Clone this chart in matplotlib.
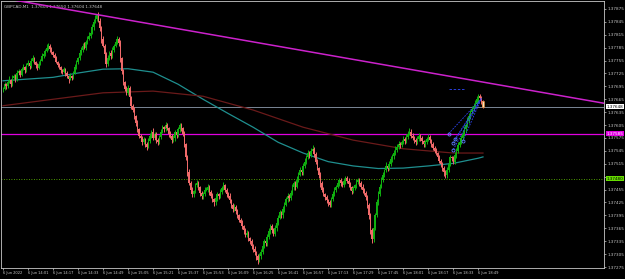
import numpy as np
import matplotlib.pyplot as plt

# GBPCAD M1, prices kept as points above 1.37000
BASE = 1.37
open_first = 688
close_pts = [
    690, 700, 695, 705, 710, 700, 715, 720, 712, 725,
    730, 722, 735, 740, 732, 745, 750, 742, 755, 760,
    752, 745, 738, 748, 755, 765, 770, 778, 785, 790,
    782, 775, 768, 760, 752, 745, 740, 732, 728, 735,
    725, 718, 712, 720, 715, 725, 740, 752, 760, 772,
    780, 790, 785, 798, 805, 812, 820, 832, 845, 852,
    860, 848, 830, 805, 790, 770, 748, 760, 772, 765,
    780, 790, 798, 805, 795, 760, 730, 705, 690, 680,
    692, 670, 650, 640, 625, 610, 595, 580, 575, 565,
    572, 560, 555, 568, 580, 590, 575, 585, 570, 565,
    578, 590, 600, 595, 605, 598, 585, 580, 570, 575,
    590, 582, 595, 605, 598, 585, 560, 530, 495, 470,
    455, 445, 452, 465, 470, 460, 448, 440, 445, 455,
    455, 462, 450, 440, 432, 425, 435, 445, 440, 450,
    458, 465, 455, 445, 440, 430, 420, 410, 415, 405,
    395, 385, 378, 370, 360, 350, 355, 342, 335, 325,
    318, 310, 300, 292, 300, 310, 325, 335, 330, 345,
    358, 370, 360, 352, 365, 378, 390, 402, 395, 410,
    420, 432, 440, 435, 448, 460, 470, 462, 478, 490,
    500, 495, 510, 520, 530, 540, 535, 545, 550, 538,
    520, 505, 490, 470, 455, 445, 438, 430, 425, 420,
    432, 445, 455, 462, 470, 478, 470, 465, 475, 482,
    475, 468, 460, 452, 458, 465, 472, 478, 470, 462,
    455, 448, 438, 420, 395, 360, 340, 365, 395, 425,
    445, 462, 478, 490, 500, 510, 505, 515, 525, 532,
    540, 548, 555, 562, 558, 565, 572, 568, 578, 585,
    590, 580, 575, 570, 565, 572, 580, 575, 568, 560,
    565, 572, 578, 570, 560, 552, 545, 540, 530, 522,
    515, 505, 495, 488, 500, 515, 530, 528, 520, 535,
    545, 558, 565, 575, 585, 595, 605, 615, 625, 635,
    642, 650, 655, 665, 672, 668, 660, 648,
]
wick_up = [
    4, 6, 3, 5, 8, 2, 6, 4, 3, 7,
    5, 3, 6, 8, 2, 5, 7, 3, 6, 9,
    4, 2, 5, 6, 3, 7, 4, 5, 8, 6,
    3, 5, 2, 4, 6, 3, 5, 2, 4, 6,
    3, 5, 4, 7, 2, 6, 8, 5, 4, 6,
    7, 5, 8, 4, 6, 9, 5, 7, 6, 8,
    4, 9, 6, 5, 7, 4, 6, 8, 5, 7,
    6, 4, 8, 6, 5, 7, 4, 6, 3, 5,
    6, 4, 3, 5, 7, 4, 6, 3, 5, 4,
    6, 3, 5, 7, 6, 4, 8, 5, 3, 6,
    5, 7, 6, 4, 8, 5, 3, 6, 4, 7,
    3, 5, 6, 4, 5, 3, 6, 4, 5, 7,
    4, 6, 3, 5, 7, 6, 4, 3, 5, 6,
    7, 5, 4, 3, 6, 4, 7, 5, 3, 6,
    5, 7, 4, 3, 5, 6, 4, 3, 6, 4,
    5, 3, 4, 6, 3, 5, 7, 4, 3, 5,
    4, 6, 3, 5, 7, 6, 8, 5, 4, 6,
    7, 5, 4, 6, 8, 5, 7, 6, 4, 7,
    6, 5, 8, 4, 6, 7, 5, 4, 8, 6,
    7, 5, 6, 8, 5, 7, 4, 6, 9, 5,
    4, 6, 3, 5, 4, 6, 3, 5, 4, 6,
    5, 7, 6, 4, 8, 5, 4, 6, 7, 5,
    4, 6, 5, 3, 6, 4, 7, 5, 4, 6,
    5, 4, 3, 5, 4, 6, 5, 7, 6, 8,
    6, 5, 7, 6, 4, 8, 5, 6, 7, 5,
    6, 8, 5, 7, 4, 6, 8, 5, 7, 6,
    8, 5, 6, 4, 5, 7, 6, 4, 5, 3,
    5, 6, 7, 4, 3, 5, 4, 6, 3, 5,
    4, 3, 5, 6, 7, 6, 5, 4, 6, 7,
    6, 7, 5, 6, 8, 7, 6, 8, 7, 6,
    8, 6, 9, 7, 6, 5, 4, 3,
]
wick_dn = [
    5, 3, 6, 4, 2, 6, 3, 5, 7, 4,
    3, 6, 4, 2, 7, 4, 3, 6, 4, 3,
    6, 7, 5, 3, 4, 2, 5, 4, 3, 5,
    6, 4, 5, 7, 3, 6, 4, 7, 5, 3,
    6, 4, 8, 3, 6, 4, 2, 5, 4, 3,
    4, 5, 3, 6, 4, 3, 5, 4, 6, 3,
    5, 3, 7, 8, 4, 6, 9, 5, 4, 6,
    5, 6, 4, 5, 7, 8, 6, 7, 5, 6,
    4, 6, 7, 5, 6, 8, 5, 6, 4, 7,
    5, 6, 8, 4, 5, 6, 4, 5, 7, 6,
    4, 5, 3, 6, 4, 5, 7, 5, 6, 4,
    6, 7, 5, 6, 7, 5, 6, 7, 8, 5,
    6, 7, 8, 5, 4, 6, 7, 8, 6, 5,
    4, 6, 7, 5, 6, 8, 5, 6, 7, 4,
    5, 4, 6, 7, 5, 6, 7, 8, 5, 6,
    7, 6, 5, 7, 8, 6, 5, 7, 6, 8,
    7, 6, 8, 9, 5, 6, 4, 5, 7, 5,
    4, 6, 7, 5, 4, 6, 5, 4, 6, 5,
    6, 4, 5, 7, 4, 5, 6, 7, 4, 5,
    4, 6, 5, 4, 6, 5, 7, 4, 5, 7,
    6, 5, 7, 8, 6, 5, 7, 6, 8, 6,
    5, 4, 6, 5, 4, 6, 7, 5, 4, 6,
    5, 7, 6, 8, 5, 4, 6, 5, 7, 6,
    7, 6, 8, 7, 9, 8, 10, 6, 5, 4,
    6, 5, 4, 6, 5, 4, 6, 5, 4, 6,
    5, 4, 6, 5, 7, 4, 5, 6, 4, 5,
    4, 6, 5, 7, 6, 4, 5, 6, 7, 6,
    5, 4, 5, 6, 7, 5, 6, 5, 7, 6,
    7, 6, 8, 7, 5, 4, 6, 7, 6, 5,
    6, 5, 4, 5, 4, 6, 5, 4, 5, 6,
    5, 4, 5, 4, 6, 5, 6, 4,
]

# moving averages read at a few bars
teal_bars = [0, 16, 32, 48, 64, 80, 96, 112, 128, 144, 160, 176, 192, 208, 224, 240, 256, 272, 288, 304, 307]
teal_pts = [708, 712, 716, 726, 735, 736, 728, 700, 665, 632, 600, 565, 540, 520, 510, 504, 505, 510, 516, 528, 531]
red_bars = [0, 32, 64, 96, 128, 160, 192, 224, 256, 288, 307]
red_pts = [650, 665, 680, 684, 672, 640, 600, 570, 550, 540, 540]

price_ticks = [1.37875, 1.37845, 1.37815, 1.37785, 1.37755, 1.37725, 1.37695,
               1.37665, 1.37635, 1.37605, 1.37575, 1.37545, 1.37515, 1.37485,
               1.37455, 1.37425, 1.37395, 1.37365, 1.37335, 1.37305, 1.37275]
time_bars = [0, 16, 32, 48, 64, 80, 96, 112, 128, 144, 160, 176, 192, 208, 224, 240, 256, 272, 288, 304]
time_labels = ["6 Jun 2022", "6 Jun 14:01", "6 Jun 14:17", "6 Jun 14:33", "6 Jun 14:49",
               "6 Jun 15:05", "6 Jun 15:21", "6 Jun 15:37", "6 Jun 15:53", "6 Jun 16:09",
               "6 Jun 16:25", "6 Jun 16:41", "6 Jun 16:57", "6 Jun 17:13", "6 Jun 17:29",
               "6 Jun 17:45", "6 Jun 18:01", "6 Jun 18:17", "6 Jun 18:33", "6 Jun 18:49"]

bid_level = 1.37648
magenta_level = 1.37585
green_level = 1.37480
# trend line: two anchor points (bar, price)
trend_pts = [(60, 1.37862), (384, 1.37656)]
# blue fan: start points and common end
fan_starts = [(285, 585), (288, 563), (289, 572), (288, 548), (294, 567)]
fan_end = (306, 667)

fg = '#c8c8c8'

def px(v):
    return BASE + np.asarray(v) / 1e5

closes = px(close_pts)
opens = px([open_first] + close_pts[:-1])
highs = np.maximum(opens, closes) + np.array(wick_up) / 1e5
lows = np.minimum(opens, closes) - np.array(wick_dn) / 1e5
idx = np.arange(len(closes))

fig = plt.figure(figsize=(6.25, 2.79), dpi=100, facecolor='black')
ax = fig.add_axes([0.0016, 1 - 268 / 279, 604 / 625 - 0.0016, 267 / 279])
ax.set_facecolor('black')

up = closes >= opens
col = np.where(up, '#10b010', '#f06a6a')
ax.vlines(idx, lows, highs, colors=col, linewidth=0.7, zorder=3)
body = np.abs(closes - opens)
body = np.where(body < 0.000008, 0.000008, body)
ax.bar(idx, body, bottom=np.minimum(opens, closes), width=0.9, color=col, linewidth=0, zorder=3)

# last (current) candle highlighted
ax.bar(idx[-1], abs(closes[-1] - opens[-1]), bottom=min(opens[-1], closes[-1]), width=1.2,
       color='#f3e2c0', edgecolor='#e08020', linewidth=0.4, zorder=4)

ax.plot(teal_bars, px(teal_pts), color='#1f8f8f', linewidth=0.9, zorder=2)
ax.plot(red_bars, px(red_pts), color='#6a1a1a', linewidth=0.9, zorder=2)

ax.axhline(bid_level, color='#7a8796', linewidth=0.7, zorder=1)
ax.axhline(magenta_level, color='#e000e0', linewidth=0.9, zorder=1)
ax.axhline(green_level, color='#66cc00', linewidth=0.6, linestyle=(0, (1, 2)), zorder=1)

(tx0, ty0), (tx1, ty1) = trend_pts
slope = (ty1 - ty0) / (tx1 - tx0)
ax.plot([-2, 390], [ty0 + slope * (-2 - tx0), ty0 + slope * (390 - tx0)],
        color='#cc22cc', linewidth=1.1, zorder=5)

for b, v in fan_starts:
    ax.plot([b, fan_end[0]], px([v, fan_end[1]]), color='#3048ff', linewidth=0.6,
            linestyle=(0, (2, 1.5)), zorder=5)
    ax.plot(b, px(v), 'o', markersize=2.2, markerfacecolor='none', markeredgecolor='#6080ff',
            markeredgewidth=0.6, zorder=6)
ax.plot([285, 295], px([688, 688]), color='#3048ff', linewidth=0.6, linestyle=(0, (3, 2)), zorder=5)

ax.set_xlim(-1.25, 384.4)
ax.set_ylim(1.372727, 1.378935)

for s in ax.spines.values():
    s.set_color(fg)
    s.set_linewidth(0.6)

# labels hidden under the level boxes on the price scale
covered = [1.37485]
ax.yaxis.tick_right()
ax.set_yticks(price_ticks)
ax.set_yticklabels(['' if p in covered else f'{p:.5f}' for p in price_ticks])
ax.set_xticks(time_bars)
ax.set_xticklabels(time_labels)
ax.tick_params(colors=fg, labelsize=3, length=1.5, width=0.5, pad=1)
ax.tick_params(axis='x', labelsize=2.6, pad=0.8)
for lbl in ax.get_xticklabels():
    lbl.set_ha('left')

ytr = ax.get_yaxis_transform()
boxes = [(bid_level, 'white', 'black'), (magenta_level, '#e000e0', 'white'), (green_level, '#66dd00', 'black')]
for lev, bg, tc in boxes:
    ax.text(1.004, lev, f'{lev:.5f}', transform=ytr, fontsize=3, color=tc, va='center', ha='left',
            bbox=dict(boxstyle='square,pad=0.15', facecolor=bg, edgecolor='none'), zorder=10, clip_on=False)

ax.text(0.005, 0.985, 'GBPCAD,M1  1.37604 1.37650 1.37604 1.37648', transform=ax.transAxes,
        fontsize=3, color=fg, va='top', ha='left')

fig.savefig('out.png', dpi=100, facecolor='black')
